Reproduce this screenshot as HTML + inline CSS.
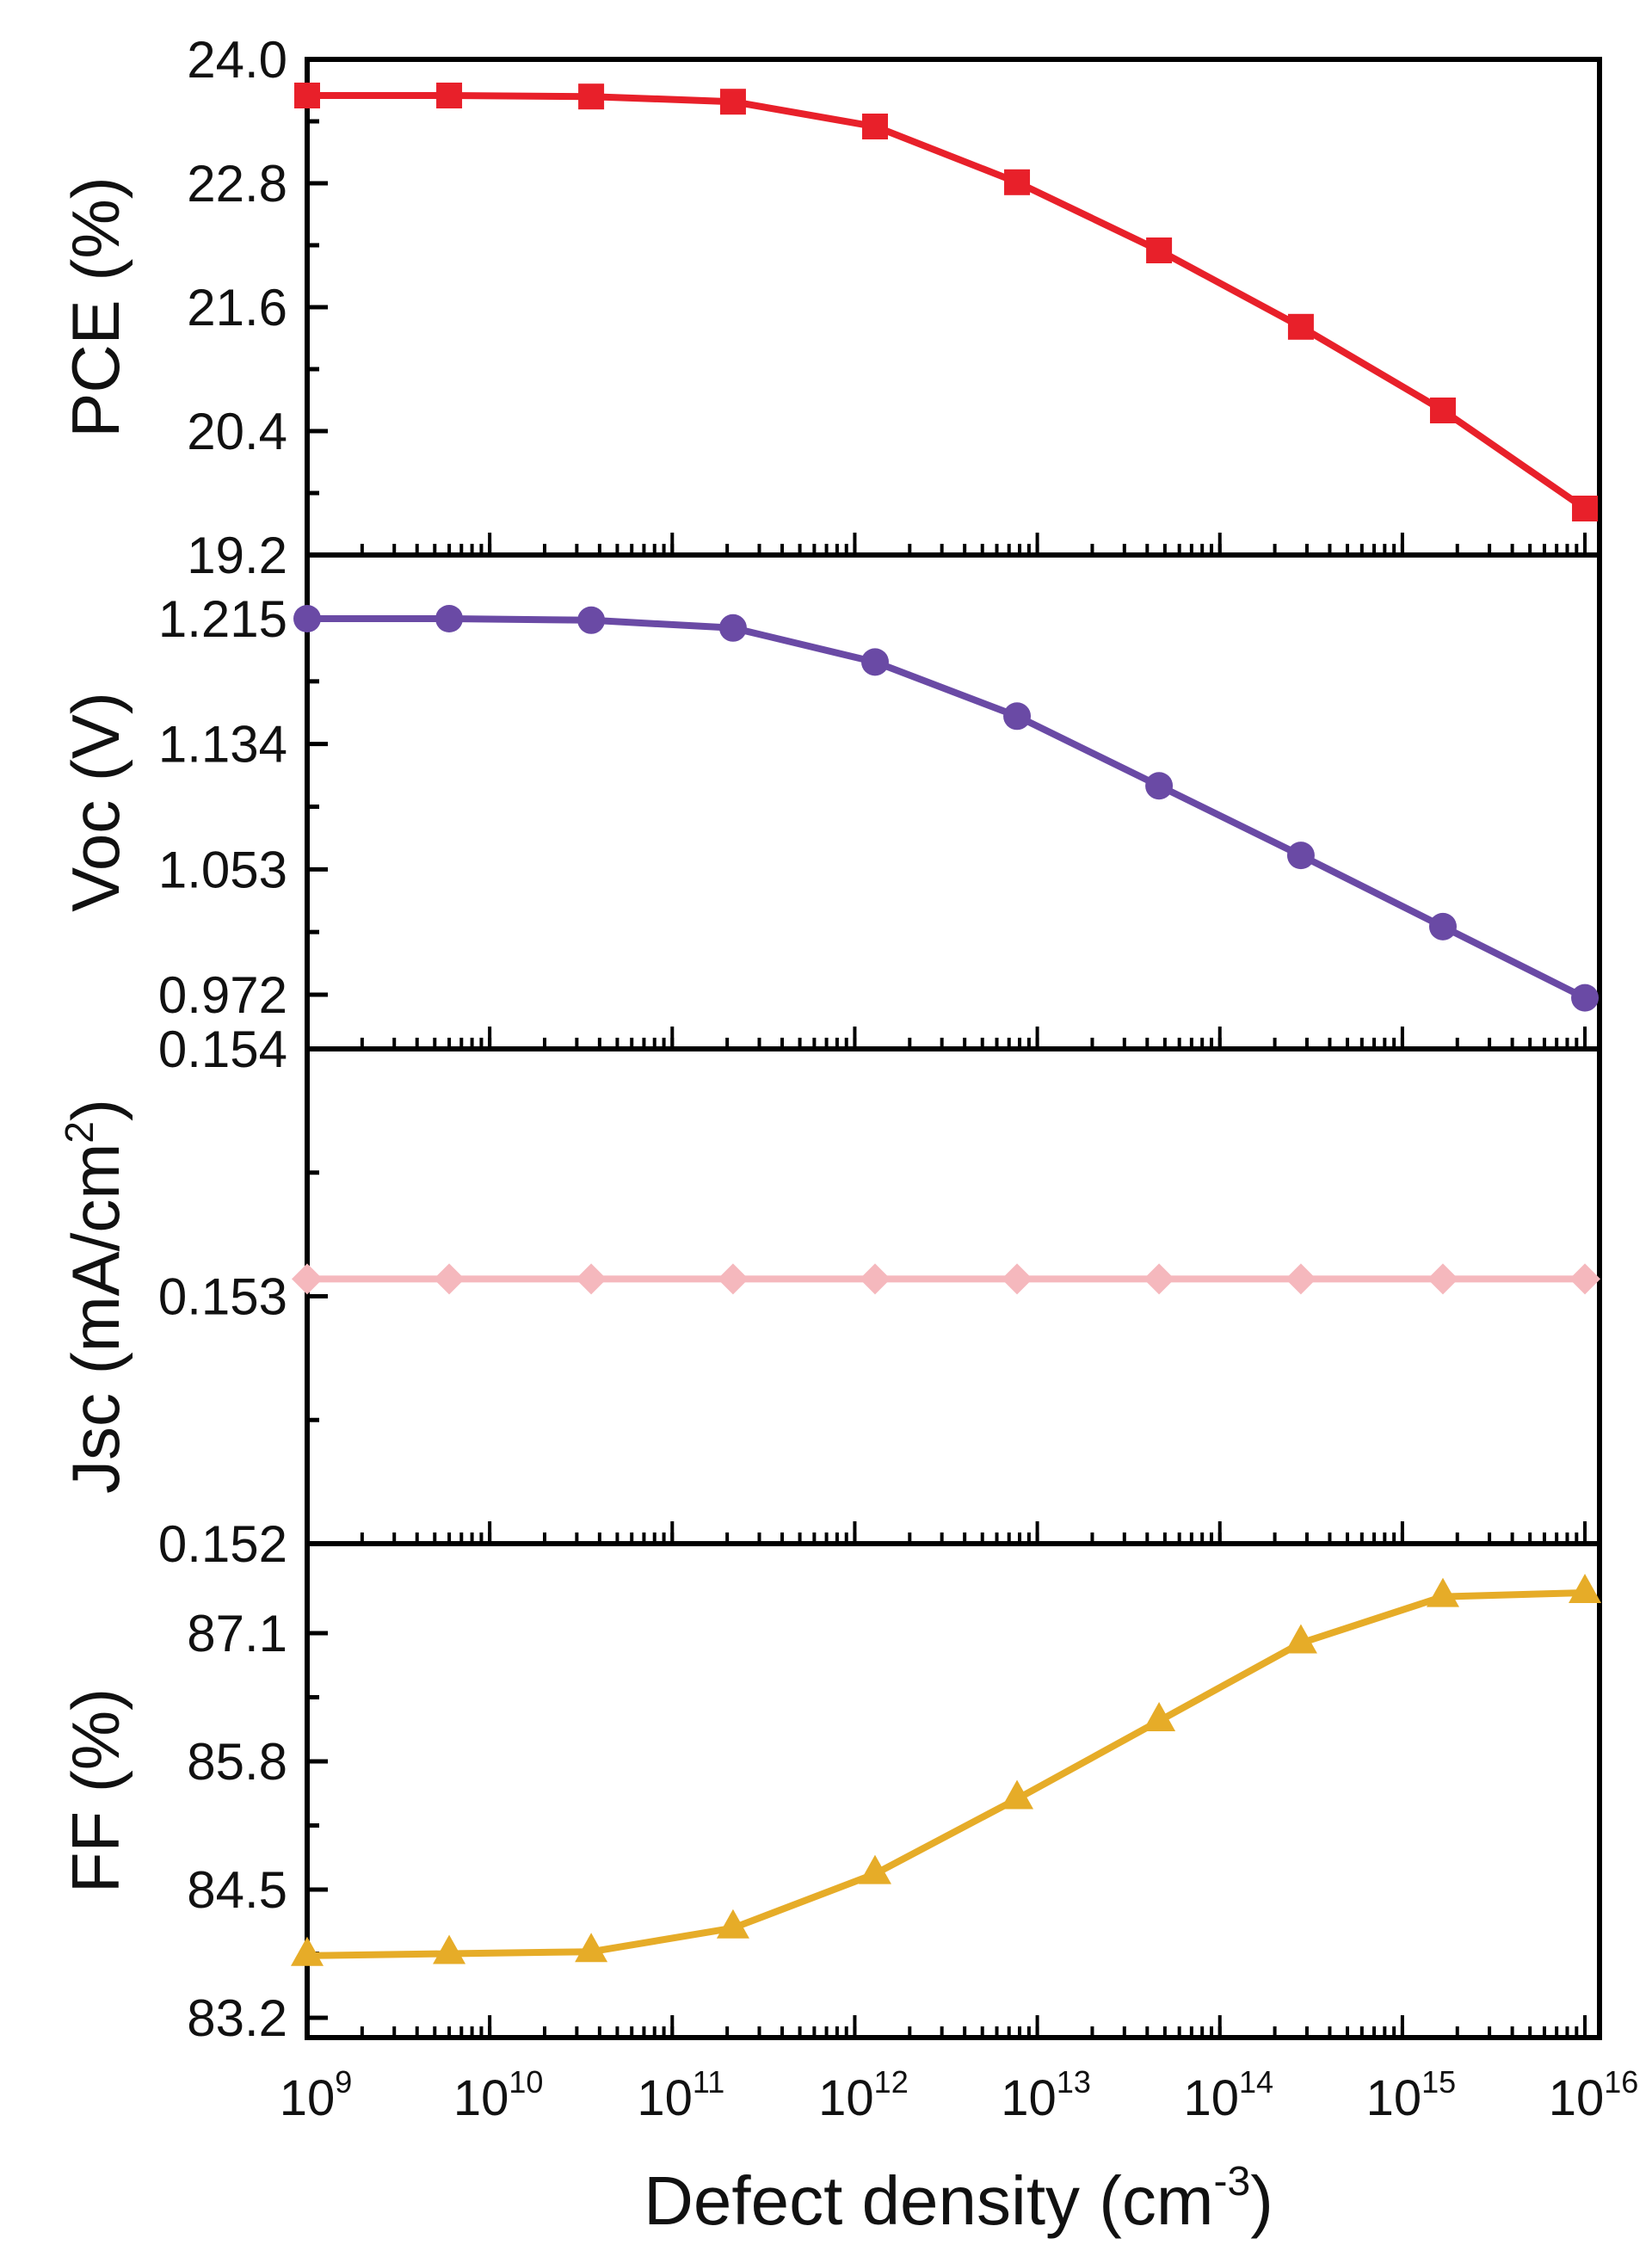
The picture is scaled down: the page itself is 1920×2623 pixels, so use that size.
<!DOCTYPE html>
<html><head><meta charset="utf-8"><style>
html,body{margin:0;padding:0;background:#fff;}
svg{display:block;font-family:"Liberation Sans",Arial,sans-serif;}
</style></head><body>
<svg id="chart" width="1920" height="2623" viewBox="0 0 1920 2623" xmlns="http://www.w3.org/2000/svg"></svg>
<script>
const xExponents = [9, 9.778, 10.556, 11.333, 12.111, 12.889, 13.667, 14.444, 15.222, 16];
const pceValues = [23.65, 23.65, 23.64, 23.59, 23.35, 22.81, 22.15, 21.41, 20.60, 19.65];
const vocValues = [1.215, 1.215, 1.214, 1.209, 1.187, 1.152, 1.107, 1.062, 1.016, 0.970];
const jscValues = [0.15307, 0.15307, 0.15307, 0.15307, 0.15307, 0.15307, 0.15307, 0.15307, 0.15307, 0.15307];
const ffValues = [83.83, 83.85, 83.87, 84.11, 84.66, 85.42, 86.21, 87.00, 87.47, 87.51];
const xTickExps = [9, 10, 11, 12, 13, 14, 15, 16];
const pceTicks = ["24.0", "22.8", "21.6", "20.4", "19.2"];
const vocTicks = ["1.215", "1.134", "1.053", "0.972"];
const jscTicks = ["0.154", "0.153", "0.152"];
const ffTicks = ["87.1", "85.8", "84.5", "83.2"];

const NS = "http://www.w3.org/2000/svg";
const svg = document.getElementById("chart");
const L = 357, R = 1859;
const xMin = 9, xMax = 16.08;
function xs(e){ return L + (e - xMin) / (xMax - xMin) * (R - L); }
function mk(tag, attrs, parent){
  const el = document.createElementNS(NS, tag);
  for (const k in attrs) el.setAttribute(k, attrs[k]);
  (parent || svg).appendChild(el);
  return el;
}
function linY(v0, y0, v1, y1){ return v => y0 + (v - v0) / (v1 - v0) * (y1 - y0); }

const panels = [
  {name:"pce", top:69, bot:645, ys:linY(24.0,69,19.2,645), ticks:pceTicks, minorStep:0.6, vals:pceValues, color:"#e8202a", marker:"square", title:"PCE (%)"},
  {name:"voc", top:645, bot:1219, ys:linY(1.215,719,0.972,1156), ticks:vocTicks, minorStep:0.0405, vals:vocValues, color:"#6a4aa5", marker:"circle", title:"Voc (V)"},
  {name:"jsc", top:1219, bot:1794, ys:linY(0.154,1219,0.152,1794), ticks:jscTicks, minorStep:0.0005, vals:jscValues, color:"#f5b8bd", marker:"diamond", title:"Jsc"},
  {name:"ff", top:1794, bot:2368, ys:linY(87.1,1898,83.2,2345), ticks:ffTicks, minorStep:0.65, vals:ffValues, color:"#e6ac28", marker:"triangle", title:"FF (%)"}
];

panels.forEach(p => {
  const g = mk("g", {});
  
  
  const tv = p.ticks.map(Number);
  const lo = Math.min(...tv), hi = Math.max(...tv);
  for (let v = lo; v <= hi + 1e-9; v += p.minorStep){
    const y = p.ys(v);
    if (y < p.top - 1 || y > p.bot + 1) continue;
    const isMajor = tv.some(t => Math.abs(t - v) < p.minorStep / 4);
    const t = mk("line", {x1:L, x2:L + (isMajor ? 24 : 14), y1:y, y2:y, stroke:"#000", "stroke-width":5}, g);
    
    
  }
  p.ticks.forEach(s => {
    const y = p.ys(Number(s));
    const t = mk("text", {x:334, y:y + 21, "text-anchor":"end", "font-size":60, fill:"#111"}, g);
    t.textContent = s;
    
    
  });
  for (let d = 9; d < 16; d++){
    for (let m = 1; m <= 10; m++){
      const e = d + Math.log10(m);
      const x = xs(e);
      const major = (m === 10);
      const t = mk("line", {x1:x, x2:x, y1:p.bot, y2:p.bot - (major ? 26 : 13), stroke:"#000", "stroke-width":4}, g);
      
      
    }
  }
  const fr = mk("rect", {x:L, y:p.top, width:R - L, height:p.bot - p.top, fill:"none", stroke:"#000", "stroke-width":6}, g);
  
  
  const pts = p.vals.map((v, i) => xs(xExponents[i]).toFixed(1) + "," + p.ys(v).toFixed(1)).join(" ");
  const pl = mk("polyline", {points:pts, fill:"none", stroke:p.color, "stroke-width":8, "stroke-linejoin":"round"}, g);
  
  
  p.vals.forEach((v, i) => {
    const cx = xs(xExponents[i]), cy = p.ys(v);
    let m;
    if (p.marker === "square") m = mk("rect", {x:cx - 15, y:cy - 15, width:30, height:30, fill:p.color}, g);
    else if (p.marker === "circle") m = mk("circle", {cx:cx, cy:cy, r:16, fill:p.color}, g);
    else if (p.marker === "diamond") m = mk("polygon", {points:`${cx},${cy-18} ${cx+18},${cy} ${cx},${cy+18} ${cx-18},${cy}`, fill:p.color}, g);
    else m = mk("polygon", {points:`${cx},${cy-22} ${cx+19},${cy+12} ${cx-19},${cy+12}`, fill:p.color}, g);
    
    
  });
  const cy = (p.top + p.bot) / 2;
  const tt = mk("text", {x:0, y:0, transform:`translate(138,${cy}) rotate(-90)`, "text-anchor":"middle", "font-size":78, fill:"#111"}, g);
  if (p.name === "jsc"){
    tt.textContent = "Jsc (mA/cm";
    const sup = mk("tspan", {"font-size":46, dy:-30}, tt); sup.textContent = "2";
    const cl = mk("tspan", {dy:30}, tt); cl.textContent = ")";
  } else tt.textContent = p.title;
  
  
});

xTickExps.forEach(e => {
  const x = xs(e);
  const t = mk("text", {x:x + 10, y:2458, "text-anchor":"middle", "font-size":58, fill:"#111"});
  t.textContent = "10";
  const s = mk("tspan", {"font-size":36, dy:-26}, t); s.textContent = String(e);
  
  
});
const xt = mk("text", {x:1114, y:2585, "text-anchor":"middle", "font-size":80, fill:"#111"});
xt.textContent = "Defect density (cm";
const xs1 = mk("tspan", {"font-size":48, dy:-34}, xt); xs1.textContent = "-3";
const xs2 = mk("tspan", {dy:34}, xt); xs2.textContent = ")";


</script>
</body></html>
